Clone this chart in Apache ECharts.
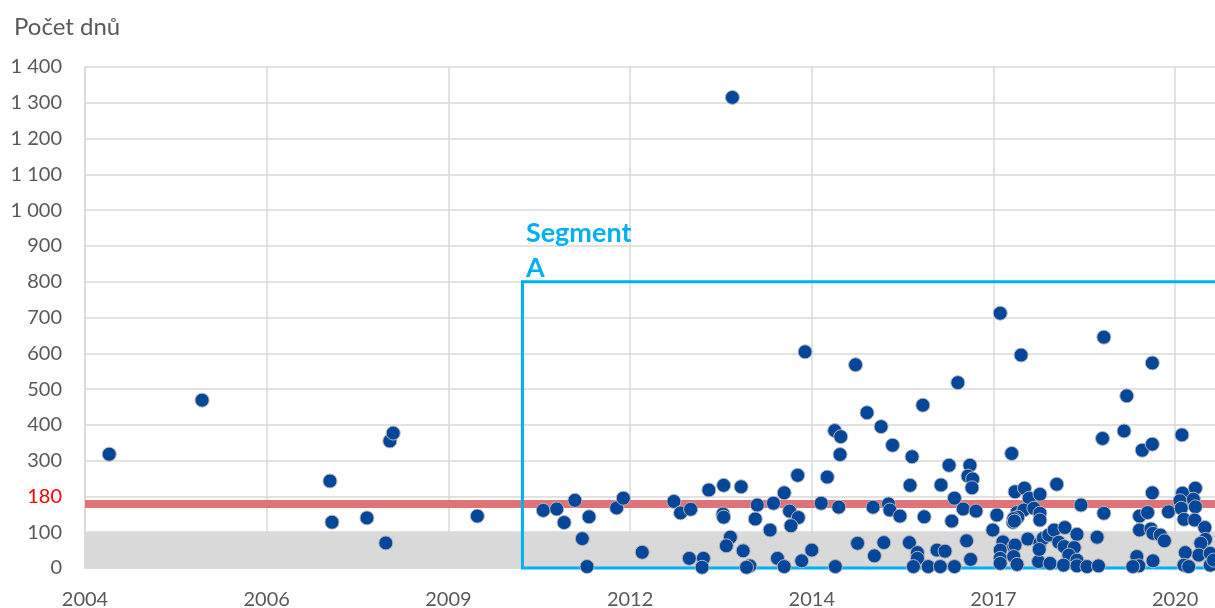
<!DOCTYPE html>
<html>
<head>
<meta charset="utf-8">
<script src="https://cdn.jsdelivr.net/npm/echarts@6/dist/echarts.min.js"></script>
<style>
  html, body { margin: 0; padding: 0; background: #fff; }
  #chart { width: 1215px; height: 608px; }
</style>
</head>
<body>
<div id="chart"></div>
<script>
// [rok, počet dnů]
const pts2004to2009 = [
  [2004.36, 318], [2005.74, 469], [2007.64, 243], [2007.67, 128], [2008.19, 140],
  [2008.47, 70], [2008.53, 355], [2008.58, 377], [2009.83, 145]
]
const pts2010to2013 = [
  [2010.81, 161], [2011.01, 165], [2011.28, 189], [2011.12, 127], [2011.49, 143],
  [2011.39, 82], [2011.46, 4], [2011.90, 168], [2012.00, 195], [2012.28, 44],
  [2012.75, 186], [2012.85, 154], [2013.00, 164], [2012.98, 27], [2013.19, 27],
  [2013.17, 2], [2013.62, 1315]
]
const pts2013to2015 = [
  [2013.27, 218], [2013.49, 231], [2013.75, 227], [2014.39, 210], [2013.99, 176],
  [2014.23, 181], [2014.94, 181], [2015.20, 170], [2013.48, 151], [2013.49, 142],
  [2013.96, 137], [2014.47, 159], [2014.60, 141], [2014.49, 118], [2014.18, 106],
  [2013.59, 86], [2013.53, 62], [2013.78, 48], [2013.88, 6], [2013.83, 2],
  [2014.29, 27], [2014.39, 4], [2014.65, 20], [2014.80, 50], [2015.15, 4],
  [2015.48, 69], [2014.70, 604], [2015.45, 568], [2015.14, 384], [2015.23, 367],
  [2015.22, 317], [2014.59, 259], [2015.03, 254]
]
const pts2015to2017 = [
  [2016.97, 518], [2015.62, 434], [2016.45, 455], [2015.83, 395], [2016.00, 343],
  [2016.29, 311], [2016.84, 287], [2017.15, 287], [2017.12, 257], [2017.19, 249],
  [2017.18, 224], [2016.26, 231], [2016.72, 232], [2016.92, 195], [2015.71, 170],
  [2015.94, 179], [2015.96, 162], [2016.11, 145], [2016.47, 143], [2016.88, 131],
  [2017.05, 165], [2017.24, 159], [2017.55, 148], [2017.49, 106], [2015.87, 71],
  [2015.73, 34], [2016.25, 71], [2016.37, 43], [2016.37, 27], [2016.31, 4],
  [2016.53, 4], [2016.66, 50], [2016.78, 47], [2016.71, 4], [2016.92, 4],
  [2017.10, 76], [2017.16, 24]
]
const pts2017to2019 = [
  [2017.60, 712], [2017.91, 595], [2019.14, 645], [2017.77, 320], [2019.12, 362],
  [2017.82, 213], [2017.96, 223], [2018.44, 234], [2018.03, 195], [2018.19, 206],
  [2018.80, 176], [2019.14, 153], [2017.85, 155], [2017.95, 162], [2018.10, 167],
  [2018.19, 153], [2018.19, 134], [2017.82, 134], [2017.79, 128], [2017.86, 142],
  [2017.80, 138], [2017.81, 131], [2017.64, 73], [2017.60, 50], [2017.60, 27],
  [2017.60, 13], [2017.80, 60], [2017.82, 64], [2017.80, 32], [2017.85, 10],
  [2018.01, 81], [2018.19, 69], [2018.24, 83], [2018.32, 92], [2018.40, 106],
  [2018.56, 113], [2018.74, 94], [2018.47, 72], [2018.55, 60], [2018.70, 57],
  [2018.62, 36], [2018.74, 22], [2019.04, 86], [2018.17, 18], [2018.18, 52],
  [2018.34, 13], [2018.54, 8], [2018.74, 6], [2018.89, 4], [2019.06, 6]
]
const pts2019to2020 = [
  [2019.86, 573], [2019.48, 481], [2019.44, 383], [2019.71, 329], [2019.86, 346],
  [2020.30, 372], [2019.86, 210], [2019.67, 145], [2019.79, 155], [2020.10, 157],
  [2019.67, 106], [2019.84, 109], [2019.87, 97], [2019.98, 92], [2020.04, 76],
  [2019.63, 32], [2019.66, 6], [2019.57, 4], [2019.87, 20], [2020.31, 209],
  [2020.50, 223], [2020.27, 188], [2020.47, 192], [2020.29, 167], [2020.50, 171],
  [2020.33, 136], [2020.49, 134], [2020.64, 113], [2020.65, 80], [2020.58, 69],
  [2020.55, 36], [2020.72, 41], [2020.35, 43], [2020.33, 8], [2020.40, 4],
  [2020.72, 8], [2020.77, 22]
]

const BASE_YEAR = 2004
const X_STEP = 2.7          // krok osy x (v letech)
const X_MAX = 16.94         // konec osy x (roky od 2004)
const Y_TICKS = [0, 1400, 100]
const LIMIT = 180           // hranice počtu dnů
const LIMIT_TICK = 200      // popisek osy, který nahrazuje hodnota limitu
const GRAY_BAND = [0, 100]
const SEGMENT_A = { from: 2010.5, top: 800 }

const allPts = [].concat(pts2004to2009, pts2010to2013, pts2013to2015,
  pts2015to2017, pts2017to2019, pts2019to2020)

const textColor = '#595959'
const font = 'Lato'

const chart = echarts.init(document.getElementById('chart'))

const option = {
  animation: false,
  textStyle: { fontFamily: font },
  title: {
    text: 'Počet dnů',
    left: 9,
    top: 10,
    textStyle: { fontFamily: font, fontSize: 24, fontWeight: 'normal', color: textColor }
  },
  grid: {
    left: 85,
    right: -10,
    top: 67,
    bottom: 40,
    outerBoundsMode: 'none',
    containLabel: false
  },
  xAxis: {
    type: 'value',
    min: 0,
    max: X_MAX,
    interval: X_STEP,
    axisLine: { show: true, lineStyle: { color: '#D9D9D9', width: 1.5 } },
    axisTick: { show: false },
    splitLine: { show: true, lineStyle: { color: '#D9D9D9', width: 1.5 } },
    axisLabel: {
      fontFamily: font,
      fontSize: 20,
      color: textColor,
      margin: 22,
      formatter: function (v) {
        const k = v / X_STEP
        if (Math.abs(k - Math.round(k)) > 0.01) return ''
        return String(Math.floor(BASE_YEAR + v + 1e-6))
      }
    }
  },
  yAxis: {
    type: 'value',
    min: Y_TICKS[0],
    max: Y_TICKS[1],
    interval: Y_TICKS[2],
    axisLine: { show: true, lineStyle: { color: '#D9D9D9', width: 1.5 } },
    axisTick: { show: false },
    splitLine: { show: true, lineStyle: { color: '#D9D9D9', width: 1.5 } },
    axisLabel: {
      fontFamily: font,
      fontSize: 20,
      color: textColor,
      margin: 23,
      formatter: function (v) {
        if (v === LIMIT_TICK) return '{lim|' + LIMIT + '}'
        if (v >= 1000) return Math.floor(v / 1000) + ' ' + String(v % 1000).padStart(3, '0')
        return String(v)
      },
      rich: {
        lim: { color: '#FF0000', fontFamily: font, fontSize: 20 }
      }
    }
  },
  series: [
    {
      name: 'body',
      type: 'scatter',
      z: 10,
      symbolSize: 14,
      itemStyle: { color: '#03469A', borderColor: '#B8B8B8', borderWidth: 1, opacity: 1 },
      data: allPts.map(p => [p[0] - BASE_YEAR, p[1]]),
      markArea: {
        z: 1,
        silent: true,
        itemStyle: { color: '#D9D9D9', opacity: 1 },
        label: { show: false },
        data: [[{ xAxis: 0, yAxis: GRAY_BAND[0] }, { xAxis: X_MAX, yAxis: GRAY_BAND[1] }]]
      },
      markLine: {
        z: 2,
        silent: true,
        symbol: 'none',
        lineStyle: { color: '#E07378', width: 8, type: 'solid' },
        label: { show: false },
        data: [{ yAxis: LIMIT }]
      }
    },
    {
      name: 'segment',
      type: 'scatter',
      clip: false,
      data: [],
      markArea: {
        z: 3,
        silent: true,
        itemStyle: { color: 'rgba(0,0,0,0)', borderColor: '#00B0F0', borderWidth: 3 },
        label: {
          show: true,
          position: [5, -64],
          formatter: 'Segment\nA',
          color: '#00B0F0',
          fontFamily: font,
          fontSize: 27,
          fontWeight: 'bold',
          lineHeight: 35,
          align: 'left'
        },
        data: [[{ xAxis: SEGMENT_A.from - BASE_YEAR, yAxis: SEGMENT_A.top }, { xAxis: X_MAX, yAxis: -8 }]]
      }
    }
  ]
}

chart.setOption(option)
</script>
</body>
</html>
